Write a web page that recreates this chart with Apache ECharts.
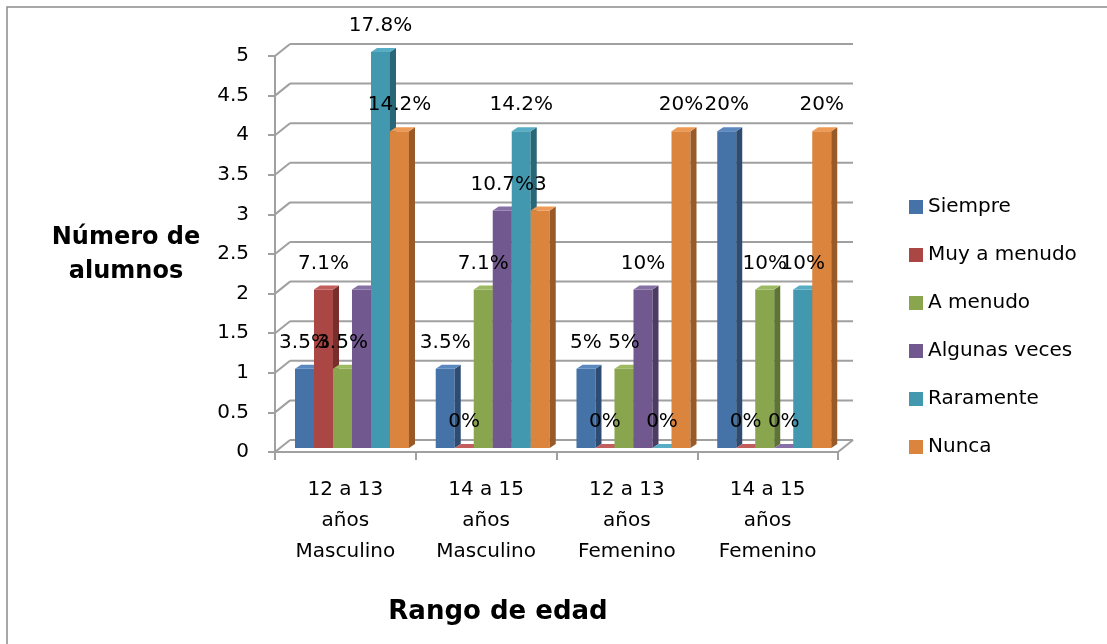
<!DOCTYPE html>
<html>
<head>
<meta charset="utf-8">
<script src="https://cdn.jsdelivr.net/npm/echarts@6/dist/echarts.min.js"></script>
<style>
  html, body { margin: 0; padding: 0; background: #fff; }
  #chart { width: 1107px; height: 644px; }
</style>
</head>
<body>
<div id="chart"></div>
<script>
// Categories (age range / sex)
const categories = [
  '12 a 13\naños\nMasculino',
  '14 a 15\naños\nMasculino',
  '12 a 13\naños\nFemenino',
  '14 a 15\naños\nFemenino'
];

// Number of students per answer
const siempre      = [1, 1, 1, 4];
const muyAMenudo   = [2, 0, 0, 0];
const aMenudo      = [1, 2, 1, 2];
const algunasVeces = [2, 3, 2, 0];
const raramente    = [5, 4, 0, 2];
const nunca        = [4, 3, 4, 4];

// Data labels shown above each bar
const siempreLbl      = ['3.5%', '3.5%', '5%', '20%'];
const muyAMenudoLbl   = ['7.1%', '0%', '0%', '0%'];
const aMenudoLbl      = ['3.5%', '7.1%', '5%', '10%'];
const algunasVecesLbl = [null, '10.7%', '10%', '0%'];
const raramenteLbl    = ['17.8%', '14.2%', '0%', '10%'];
const nuncaLbl        = ['14.2%', '3', '20%', '20%'];

// Value axis ticks
const yTicks = [0, 0.5, 1, 1.5, 2, 2.5, 3, 3.5, 4, 4.5, 5];

const seriesDefs = [
  { name: 'Siempre',       values: siempre,      labels: siempreLbl,      front: '#4572A7', side: '#2E4C72', top: '#5B88BF' },
  { name: 'Muy a menudo',  values: muyAMenudo,   labels: muyAMenudoLbl,   front: '#AA4643', side: '#772E2C', top: '#C25E5B' },
  { name: 'A menudo',      values: aMenudo,      labels: aMenudoLbl,      front: '#89A54E', side: '#5E7434', top: '#9DBA62' },
  { name: 'Algunas veces', values: algunasVeces, labels: algunasVecesLbl, front: '#71588F', side: '#4C3B62', top: '#8670A5' },
  { name: 'Raramente',     values: raramente,    labels: raramenteLbl,    front: '#4198AF', side: '#296676', top: '#57ADC4' },
  { name: 'Nunca',         values: nunca,        labels: nuncaLbl,        front: '#DB843D', side: '#985A28', top: '#EE9A55' }
];

const FONT = '"DejaVu Sans", sans-serif';
const GRID_COLOR = '#A0A0A0';

// 3D geometry: back wall offset and bar depth
const WALL_DX = 15, WALL_DY = 12;
const BAR_DX = 6, BAR_DY = 4, BAR_LIFT = 4;
const BAR_FRAC = 0.135, GROUP_PAD = 0.142;

function barRenderer(sIdx, def) {
  return function (params, api) {
    const i = api.value(0);
    const v = api.value(1);
    const p0 = api.coord([i, 0]);
    const p1 = api.coord([i, v]);
    const band = api.size([1, 0])[0];
    const w = band * BAR_FRAC;
    const x = p0[0] - band / 2 + band * GROUP_PAD + sIdx * w;
    const yb = p0[1] - BAR_LIFT;
    const yt = p1[1] - BAR_LIFT;
    const children = [
      {
        type: 'rect',
        shape: { x: x, y: yt, width: w, height: yb - yt },
        style: { fill: def.front }
      },
      {
        type: 'polygon',
        shape: { points: [[x + w, yt], [x + w + BAR_DX, yt - BAR_DY], [x + w + BAR_DX, yb - BAR_DY], [x + w, yb]] },
        style: { fill: def.side }
      },
      {
        type: 'polygon',
        shape: { points: [[x, yt], [x + w, yt], [x + w + BAR_DX, yt - BAR_DY], [x + BAR_DX, yt - BAR_DY]] },
        style: { fill: def.top }
      }
    ];
    const lbl = def.labels[params.dataIndex];
    if (lbl !== null && lbl !== undefined) {
      children.push({
        type: 'text',
        z2: 100,
        style: {
          text: lbl,
          x: x + w / 2,
          y: yt - 26,
          align: 'center',
          verticalAlign: 'middle',
          fill: '#000',
          font: '20px ' + FONT
        }
      });
    }
    return { type: 'group', children: children };
  };
}

// Back wall grid lines, side connectors and floor edge
function frameRenderer(params, api) {
  const t = api.value(1);
  const p = api.coord([0, t]);
  const band = api.size([1, 0])[0];
  const xs = p[0] - band / 2;
  const xe = xs + band * categories.length;
  const y = p[1];
  const ls = { stroke: GRID_COLOR, lineWidth: 2 };
  const children = [
    { type: 'line', shape: { x1: xs, y1: y, x2: xs + WALL_DX, y2: y - WALL_DY }, style: ls },
    { type: 'line', shape: { x1: xs + WALL_DX, y1: y - WALL_DY, x2: xe + WALL_DX, y2: y - WALL_DY }, style: ls }
  ];
  if (t === 0) {
    children.push({ type: 'line', shape: { x1: xe, y1: y, x2: xe + WALL_DX, y2: y - WALL_DY }, style: ls });
  }
  return { type: 'group', children: children };
}

const series = [
  {
    type: 'custom',
    name: 'frame',
    z: 1,
    silent: true,
    renderItem: frameRenderer,
    encode: { x: 0, y: 1 },
    data: yTicks.map(function (t) { return [0, t]; })
  }
];
seriesDefs.forEach(function (def, s) {
  series.push({
    type: 'custom',
    name: def.name,
    z: 2,
    itemStyle: { color: def.front },
    renderItem: barRenderer(s, def),
    encode: { x: 0, y: 1 },
    data: def.values.map(function (v, i) { return [i, v]; })
  });
});

const chart = echarts.init(document.getElementById('chart'), null, { renderer: 'canvas' });
chart.setOption({
  animation: false,
  backgroundColor: '#fff',
  textStyle: { fontFamily: FONT },
  grid: { left: 275, top: 56, right: 269, bottom: 192, containLabel: false },
  legend: {
    orient: 'vertical',
    left: 909,
    top: 195,
    padding: 0,
    itemWidth: 14,
    itemHeight: 14,
    itemGap: 24,
    icon: 'rect',
    data: seriesDefs.map(function (d) { return d.name; }),
    textStyle: { fontFamily: FONT, fontSize: 20, lineHeight: 24, color: '#000' }
  },
  xAxis: {
    type: 'category',
    data: categories,
    boundaryGap: true,
    axisLine: { show: true, lineStyle: { color: GRID_COLOR, width: 2 } },
    axisTick: { show: true, length: 8, lineStyle: { color: GRID_COLOR, width: 2 } },
    axisLabel: {
      interval: 0,
      margin: 22,
      color: '#000',
      fontFamily: FONT,
      fontSize: 20,
      lineHeight: 31
    },
    splitLine: { show: false }
  },
  yAxis: {
    type: 'value',
    min: 0,
    max: 5,
    interval: 0.5,
    axisLine: { show: true, lineStyle: { color: GRID_COLOR, width: 2 } },
    axisTick: { show: true, length: 7, lineStyle: { color: GRID_COLOR, width: 2 } },
    axisLabel: { margin: 26, color: '#000', fontFamily: FONT, fontSize: 20 },
    splitLine: { show: false }
  },
  graphic: [
    {
      type: 'rect',
      silent: true,
      z: -1,
      shape: { x: 7, y: 7, width: 1300, height: 800 },
      style: { fill: 'none', stroke: '#8C8C8C', lineWidth: 1.5 }
    },
    {
      type: 'text',
      x: 126,
      y: 255,
      style: {
        text: 'Número de\nalumnos',
        align: 'center',
        verticalAlign: 'middle',
        lineHeight: 34,
        fill: '#000',
        font: 'bold 24px ' + FONT
      }
    },
    {
      type: 'text',
      x: 498,
      y: 612,
      style: {
        text: 'Rango de edad',
        align: 'center',
        verticalAlign: 'middle',
        fill: '#000',
        font: 'bold 26px ' + FONT
      }
    }
  ],
  series: series
});
</script>
</body>
</html>
